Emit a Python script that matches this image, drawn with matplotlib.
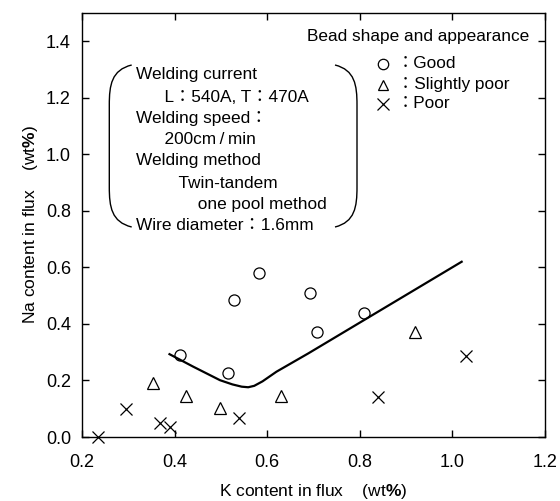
import matplotlib
matplotlib.use("Agg")
import matplotlib.pyplot as plt
from matplotlib.path import Path
from matplotlib.patches import PathPatch

plt.rcParams['font.family'] = ['Liberation Sans', 'Noto Sans CJK JP', 'DejaVu Sans']
plt.rcParams['mathtext.fontset'] = 'custom'
plt.rcParams['mathtext.bf'] = 'Liberation Sans:bold'
plt.rcParams['mathtext.rm'] = 'Liberation Sans'

# Data
good_k = [0.412, 0.516, 0.529, 0.582, 0.692, 0.708, 0.809]
good_na = [0.290, 0.225, 0.484, 0.581, 0.508, 0.370, 0.439]
slight_k = [0.354, 0.424, 0.498, 0.630, 0.919]
slight_na = [0.190, 0.146, 0.101, 0.146, 0.372]
poor_k = [0.234, 0.295, 0.368, 0.389, 0.539, 0.840, 1.029]
poor_na = [0.000, 0.098, 0.048, 0.036, 0.068, 0.142, 0.286]
curve_k = [0.389, 0.440, 0.498, 0.525, 0.545, 0.559, 0.572, 0.590, 0.620, 0.689, 1.020]
curve_na = [0.293, 0.249, 0.201, 0.186, 0.178, 0.176, 0.181, 0.197, 0.231, 0.296, 0.620]

xticks = [0.2, 0.4, 0.6, 0.8, 1.0, 1.2]
yticks = [0.0, 0.2, 0.4, 0.6, 0.8, 1.0, 1.2, 1.4]

fig = plt.figure(figsize=(5.6, 5.01), dpi=100)
ax = fig.add_axes([82/560, 1-437/501, 463/560, 424/501])

ax.plot(curve_k, curve_na, color='black', lw=1.6, solid_joinstyle='round')
ax.plot(good_k, good_na, 'o', mfc='none', mec='black', ms=8, mew=0.9, clip_on=False)
ax.plot(slight_k, slight_na, '^', mfc='none', mec='black', ms=8, mew=0.9, clip_on=False)
ax.plot(poor_k, poor_na, 'x', color='black', ms=8.5, mew=0.9, clip_on=False)

ax.set_xlim(0.2, 1.2)
ax.set_ylim(0.0, 1.5)
ax.set_xticks(xticks)
ax.set_xticklabels([f"{v:.1f}" for v in xticks])
ax.set_yticks(yticks)
ax.set_yticklabels([f"{v:.1f}" for v in yticks])
ax.tick_params(direction='in', length=5, width=1, top=True, right=True,
               labelsize=13)
ax.tick_params(axis='x', pad=12)
ax.tick_params(axis='y', pad=8)
for s in ax.spines.values():
    s.set_linewidth(1)

ax.set_xlabel(r"K content in flux    (wt$\mathbf{\%}$)", fontsize=12.5, labelpad=8)
ax.set_ylabel(r"Na content in flux    (wt$\mathbf{\%}$)", fontsize=12.5, labelpad=4)

def ax_pt(px, py):
    return ((px - 82) / 463, (437 - py) / 424)

# Conditions text
lines = ["Welding current",
         "      L：540A, T：470A",
         "Welding speed：",
         "      200cm\u2009/\u2009min",
         "Welding method",
         "         Twin-tandem",
         "             one pool method",
         "Wire diameter：1.6mm"]
ys = [75, 97, 118, 140, 161, 183, 204, 226]
for t, y in zip(lines, ys):
    x0, y0 = ax_pt(136, y)
    ax.text(x0, y0, t, transform=ax.transAxes, fontsize=12.4, va='center', ha='left')

# Brackets
def bracket(xe, xv):
    verts = [ax_pt(xe, 65), ax_pt(xv + (xe - xv) * 0.1, 70), ax_pt(xv, 85), ax_pt(xv, 105),
             ax_pt(xv, 187),
             ax_pt(xv, 207), ax_pt(xv + (xe - xv) * 0.1, 222), ax_pt(xe, 227)]
    codes = [Path.MOVETO, Path.CURVE4, Path.CURVE4, Path.CURVE4, Path.LINETO,
             Path.CURVE4, Path.CURVE4, Path.CURVE4]
    ax.add_patch(PathPatch(Path(verts, codes), fill=False, lw=1.0, ec='black',
                           transform=ax.transAxes))
bracket(131.7, 109.3)
bracket(335, 357)

# Legend
tx, ty = ax_pt(418, 36)
ax.text(tx, ty, "Bead shape and appearance", transform=ax.transAxes, fontsize=12.4,
        ha='center', va='center')
leg = [('o', 'Good', 64), ('^', 'Slightly poor', 85), ('x', 'Poor', 104)]
for m, lab, y in leg:
    mx, my = ax_pt(383, y)
    if m == 'x':
        ax.plot([mx], [my], m, color='black', ms=8, mew=0.9, transform=ax.transAxes)
    else:
        ax.plot([mx], [my], m, mfc='none', mec='black', ms=7.5, mew=0.9, transform=ax.transAxes)
    lx, ly = ax_pt(397, y)
    ax.text(lx, ly, "：" + lab, transform=ax.transAxes, fontsize=12.4, ha='left', va='center')

fig.savefig("out.png", dpi=100)
